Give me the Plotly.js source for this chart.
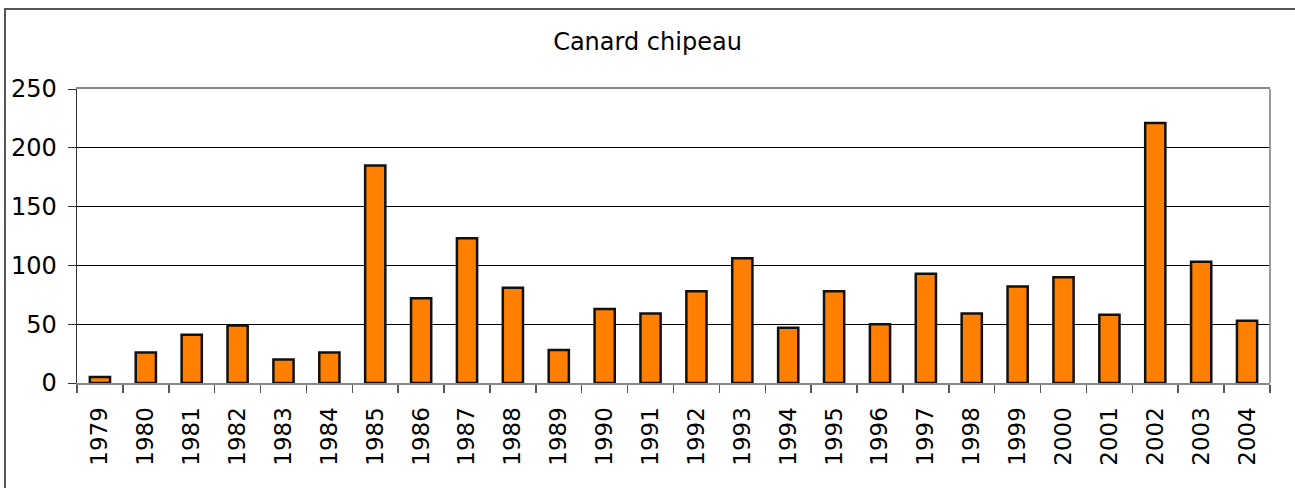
<!DOCTYPE html>
<html>
<head>
<meta charset="utf-8">
<script src="https://cdn.plot.ly/plotly-3.0.1.min.js"></script>
<style>
  body { margin: 0; background: #fff; overflow: hidden; }
  #chart { position: absolute; left: 0; top: 0; width: 1295px; height: 488px; }
  #frame { position: absolute; left: 4px; top: 8px; width: 1300px; height: 490px;
           border: 2px solid #555; box-sizing: border-box; pointer-events: none; }
</style>
</head>
<body>
<div id="chart"></div>
<div id="frame"></div>
<script>
// Data
const years = ['1979', '1980', '1981', '1982', '1983', '1984', '1985', '1986', '1987',
  '1988', '1989', '1990', '1991', '1992', '1993', '1994', '1995', '1996', '1997',
  '1998', '1999', '2000', '2001', '2002', '2003', '2004'];
const counts = [5, 26, 41, 49, 20, 26, 185, 72, 123, 81, 28, 63, 59, 78, 106, 47, 78,
  50, 93, 59, 82, 90, 58, 221, 103, 53];
const yTicks = [0, 50, 100, 150, 200, 250];

const font = 'DejaVu Sans, Verdana, sans-serif';

const bars = {
  x: years,
  y: counts,
  type: 'bar',
  marker: { color: '#FF8000', line: { color: '#111', width: 2.5 } },
  hoverinfo: 'x+y'
};

const layout = {
  width: 1295,
  height: 488,
  margin: { l: 77, r: 25, t: 89, b: 105 },
  paper_bgcolor: '#fff',
  plot_bgcolor: '#fff',
  showlegend: false,
  bargap: 0.56,
  font: { family: font, size: 23, color: '#000' },
  title: {
    text: 'Canard chipeau',
    font: { family: font, size: 24, color: '#000' },
    x: 0.5, xref: 'container',
    y: 0.915, yref: 'container', yanchor: 'middle'
  },
  xaxis: {
    type: 'category',
    tickangle: -90,
    tickson: 'boundaries',
    ticks: 'outside',
    ticklen: 8,
    tickcolor: '#555',
    tickwidth: 1.5,
    ticklabelstandoff: 13,
    showline: true,
    linecolor: '#888',
    linewidth: 2,
    mirror: true,
    showgrid: false,
    tickfont: { family: font, size: 23, color: '#000' }
  },
  yaxis: {
    range: [0, 250],
    tickvals: yTicks,
    ticks: 'outside',
    ticklen: 8,
    tickcolor: '#333',
    ticklabelstandoff: 6,
    showline: true,
    linecolor: '#333',
    linewidth: 1.5,
    showgrid: true,
    gridcolor: '#000',
    gridwidth: 1,
    zeroline: false,
    tickfont: { family: font, size: 24, color: '#000' }
  },
  shapes: [
    { type: 'line', xref: 'paper', yref: 'paper', x0: 1, x1: 1, y0: 0, y1: 1,
      line: { color: '#999', width: 2 } }
  ]
};

Plotly.newPlot('chart', [bars], layout, { displayModeBar: false, staticPlot: true });
</script>
</body>
</html>
